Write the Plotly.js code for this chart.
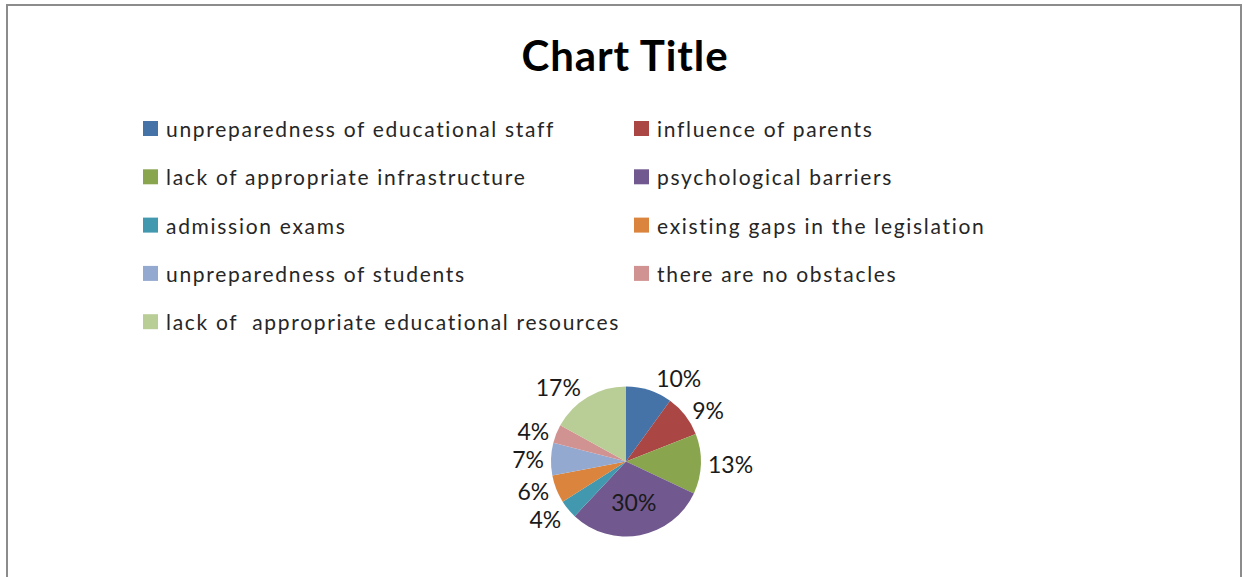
<!DOCTYPE html>
<html>
<head>
<meta charset="utf-8">
<script src="https://cdn.plot.ly/plotly-3.0.1.min.js"></script>
<style>
  html, body { margin: 0; padding: 0; background: #fff; }
  #chart { width: 1243px; height: 577px; }
  /* the source chart's Calibri runs wider than Lato */
  .annotation-text { letter-spacing: 1.7px; }
  .gtitle { letter-spacing: 0.9px; }
  /* Excel draws no leader lines for these labels */
  #chart path.textline { display: none; }
</style>
</head>
<body>
<div id="chart"></div>
<script>
const labels = [
  "unpreparedness of educational staff",
  "influence of parents",
  "lack of appropriate infrastructure",
  "psychological barriers",
  "admission exams",
  "existing gaps in the legislation",
  "unpreparedness of students",
  "there are no obstacles",
  "lack of  appropriate educational resources"
];
const shares = [10, 9, 13, 30, 4, 6, 7, 4, 17];
const colors = ["#4572a7", "#aa4643", "#89a54e", "#71588f", "#4198af",
                "#db843d", "#93a9cf", "#d19392", "#b9cd96"];
const textPos = ["outside", "outside", "outside", "inside", "outside",
                 "outside", "outside", "outside", "outside"];

(function () {
  const W = 1243, H = 577;
  const px = (x) => x / W;
  const py = (y) => 1 - y / H;
  const FONT = "Lato, 'Open Sans', sans-serif";

  // legend drawn by hand: two columns, Excel-like spacing
  const colX = [143, 634];
  const rowY0 = 128.5, rowStep = 48.3, box = 15;
  const shapes = [{
    type: "rect", xref: "paper", yref: "paper",
    x0: px(7), x1: px(1241), y0: py(5), y1: py(600),
    line: { color: "#8c8c8c", width: 2 }, fillcolor: "rgba(0,0,0,0)"
  }];
  const annotations = [];
  labels.forEach((lab, i) => {
    const col = i % 2, row = Math.floor(i / 2);
    const cy = rowY0 + row * rowStep;
    shapes.push({
      type: "rect", xref: "paper", yref: "paper",
      x0: px(colX[col]), x1: px(colX[col] + box),
      y0: py(cy - box / 2), y1: py(cy + box / 2),
      fillcolor: colors[i], line: { width: 0 }
    });
    annotations.push({
      xref: "paper", yref: "paper", x: px(colX[col] + 21), y: py(cy),
      xanchor: "left", yanchor: "middle", align: "left", showarrow: false,
      text: lab, font: { family: FONT, size: 21, color: "#262626" }
    });
  });

  const trace = {
    type: "pie",
    values: shares,
    labels: labels,
    sort: false,
    direction: "clockwise",
    rotation: 0,
    marker: { colors: colors, line: { color: "#ffffff", width: 0 } },
    textinfo: "percent",
    textposition: textPos,
    insidetextfont: { family: FONT, size: 23, color: "#1a1a1a" },
    outsidetextfont: { family: FONT, size: 23, color: "#1a1a1a" },
    showlegend: false,
    hoverinfo: "label+percent",
    domain: { x: [px(551), px(701)], y: [py(537), py(386)] },
    automargin: false
  };

  const layout = {
    width: W, height: H,
    margin: { l: 0, r: 0, t: 0, b: 0 },
    paper_bgcolor: "#ffffff",
    title: {
      text: "<b>Chart Title</b>",
      font: { family: FONT, size: 42, color: "#000000" },
      x: px(625), xanchor: "center",
      y: py(56), yanchor: "middle"
    },
    showlegend: false,
    shapes: shapes,
    annotations: annotations
  };

  Plotly.newPlot("chart", [trace], layout, { displayModeBar: false, staticPlot: true });
})();
</script>
</body>
</html>
